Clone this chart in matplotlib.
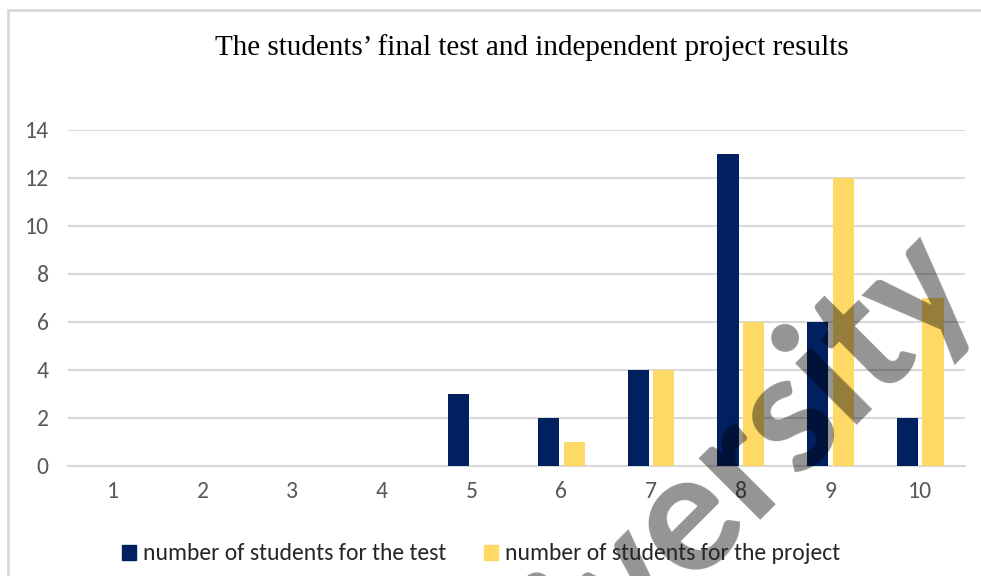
import matplotlib.pyplot as plt
from matplotlib.patches import Rectangle, Patch
import numpy as np

plt.rcParams['font.family'] = ['Carlito', 'DejaVu Sans']

categorias = ['1', '2', '3', '4', '5', '6', '7', '8', '9', '10']
test = [0, 0, 0, 0, 3, 2, 4, 13, 6, 2]
proyecto = [0, 0, 0, 0, 0, 1, 4, 6, 12, 7]
ticks_y = [0, 2, 4, 6, 8, 10, 12, 14]

azul = '#002060'
amarillo = '#FFD966'
gris_texto = '#595959'
gris_linea = '#D9D9D9'

fig = plt.figure(figsize=(9.81, 5.76), dpi=100)
ax = fig.add_axes([68 / 981, 1 - 466 / 576, (965 - 68) / 981, (466 - 130) / 576])

x = np.arange(1, len(categorias) + 1)
ancho = 0.236
ax.bar(x - 0.143, test, ancho, color=azul, zorder=3, label='number of students for the test')
ax.bar(x + 0.143, proyecto, ancho, color=amarillo, zorder=3, label='number of students for the project')

ax.set_xlim(0.5, 10.5)
ax.set_ylim(0, 14)
ax.set_xticks(x)
ax.set_xticklabels(categorias, fontsize=17)
ax.set_yticks(ticks_y)
ax.set_yticklabels([str(t) for t in ticks_y], fontsize=17)
ax.tick_params(length=0, colors=gris_texto)
ax.tick_params(axis='y', pad=14)
ax.tick_params(axis='x', pad=11)
ax.grid(axis='y', color=gris_linea, linewidth=1.5, zorder=0)
for s in ['top', 'right', 'left']:
    ax.spines[s].set_visible(False)
ax.spines['bottom'].set_color(gris_linea)
ax.spines['bottom'].set_linewidth(1.5)

fig.text(532 / 981, 1 - 48 / 576, "The students\u2019 final test and independent project results",
         family=['Liberation Serif', 'DejaVu Serif'], fontsize=21, ha='center', va='center', color='black')

manejadores = [Patch(color=azul), Patch(color=amarillo)]
fig.legend(manejadores, ['number of students for the test', 'number of students for the project'],
           loc='center', bbox_to_anchor=(481 / 981, 1 - 554 / 576), ncol=2, frameon=False,
           fontsize=17, handlelength=0.6, handleheight=0.6, handletextpad=0.3, columnspacing=1.6,
           labelcolor='#262626')

# borde del grafico
fig.patches.append(Rectangle((8 / 981, -0.1), 1.2, 1 - 10 / 576 + 0.1, transform=fig.transFigure,
                             fill=False, edgecolor=gris_linea, linewidth=2))

# marca de agua
fig.text(714 / 981, 1 - 556 / 576, 'University', fontsize=128, rotation=45, rotation_mode='anchor',
         ha='center', va='baseline', color='black', alpha=0.42, weight='semibold')

fig.savefig('out.png', dpi=100)
